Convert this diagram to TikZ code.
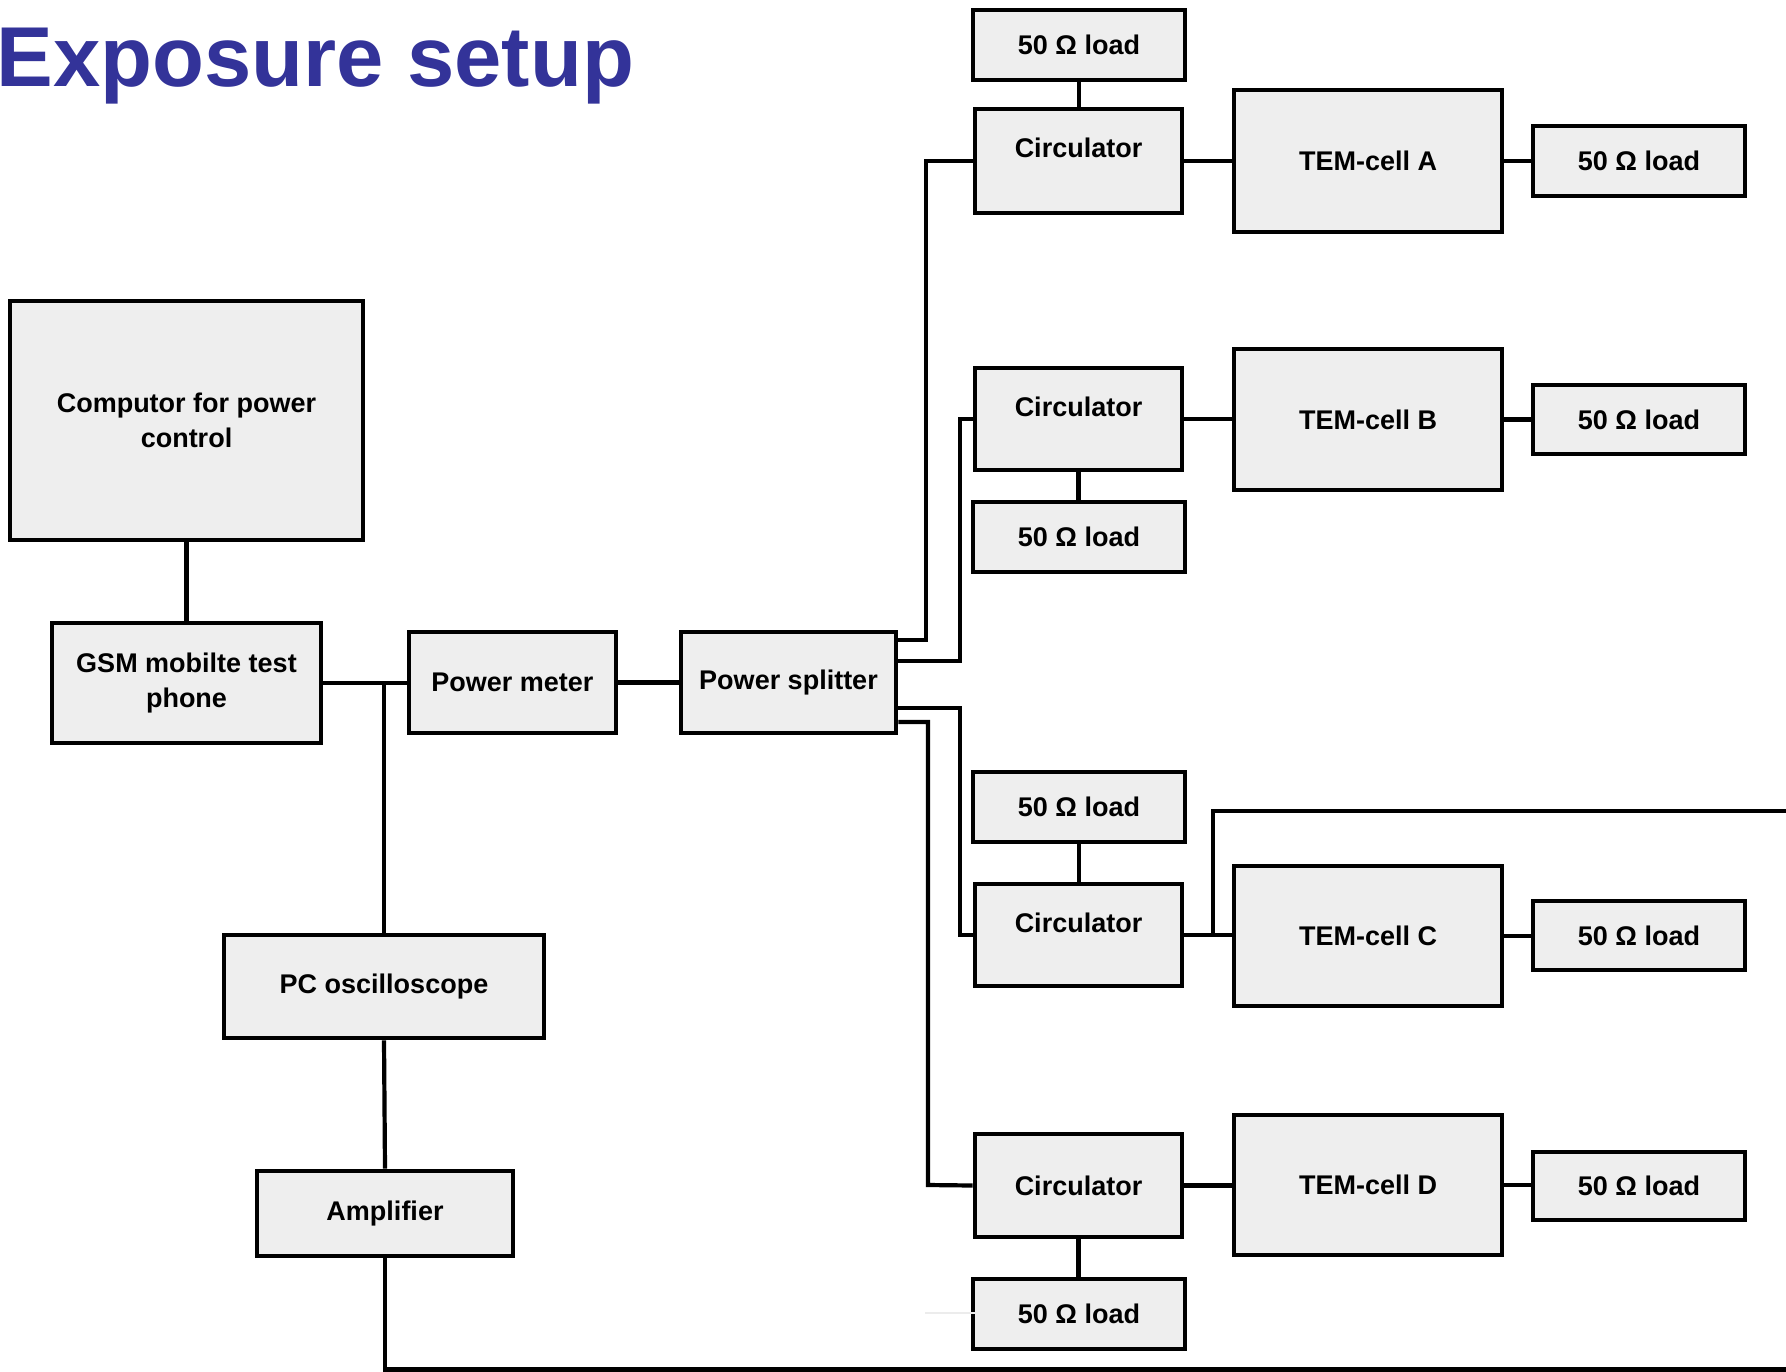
\documentclass[tikz,border=0pt]{standalone}
\usepackage{fontspec}
\setmainfont{Liberation Sans}
\definecolor{boxgray}{RGB}{238,238,238}
\definecolor{titleblue}{RGB}{51,51,153}
\tikzset{
  box/.style={draw=black, fill=boxgray, line width=2.3pt, inner sep=0pt, align=center,
    font=\bfseries\fontsize{13.5}{17.5}\selectfont},
  lbl/.style={inner sep=0pt, font=\bfseries\fontsize{13.5}{17.5}\selectfont},
  wire/.style={draw=black, line width=2.1pt, line join=miter},
}
\newcommand\mybox[6]{\node[box, minimum width={(#4-#2)*0.5pt}, minimum height={(#5-#3)*0.5pt}] (#1) at ({(#2+#4)/2},{(#3+#5)/2}) {#6};}
\begin{document}
\begin{tikzpicture}[x=0.5pt, y=-0.5pt]
\useasboundingbox (0,0) rectangle (1786,1371);
\fill[white] (0,0) rectangle (1786,1371);
\node[anchor=base west, inner sep=0pt, text=titleblue, font=\bfseries\fontsize{42.5}{50}\selectfont] (title) at (-4,86) {Exposure setup};

\coordinate (cT) at (1213,935);
\coordinate (edgeC) at (1786,811);
\coordinate (edgeB) at (1786,1369.5);
\coordinate (stubL) at (925,1313);
\coordinate (stubR) at (975,1313);

\mybox{loadTA}{973}{10}{1185}{80}{50 Ω load}
\mybox{circA}{975}{109}{1182}{213}{}
\mybox{temA}{1234}{90}{1502}{232}{TEM-cell A}
\mybox{loadRA}{1533}{126}{1745}{196}{50 Ω load}
\mybox{comp}{10}{301}{363}{540}{Computor for power\\control}
\mybox{gsm}{52}{623}{321}{743}{GSM mobilte test\\phone}
\mybox{pm}{409}{632}{616}{733}{Power meter}
\mybox{ps}{681}{632}{896}{733}{Power splitter}
\mybox{circB}{975}{368}{1182}{470}{}
\mybox{temB}{1234}{349}{1502}{490}{TEM-cell B}
\mybox{loadRB}{1533}{385}{1745}{454}{50 Ω load}
\mybox{loadBB}{973}{502}{1185}{572}{50 Ω load}
\mybox{loadTC}{973}{772}{1185}{842}{50 Ω load}
\mybox{circC}{975}{884}{1182}{986}{}
\mybox{temC}{1234}{866}{1502}{1006}{TEM-cell C}
\mybox{loadRC}{1533}{901}{1745}{970}{50 Ω load}
\mybox{circD}{975}{1134}{1182}{1237}{Circulator}
\mybox{temD}{1234}{1115}{1502}{1255}{TEM-cell D}
\mybox{loadRD}{1533}{1152}{1745}{1220}{50 Ω load}
\mybox{loadBD}{973}{1279}{1185}{1349}{50 Ω load}
\mybox{pco}{224}{935}{544}{1038}{PC oscilloscope}
\mybox{amp}{257}{1171}{513}{1256}{Amplifier}

\node[lbl] (circAt) at (1078.5,148) {Circulator};
\node[lbl] (circBt) at (1078.5,407) {Circulator};
\node[lbl] (circCt) at (1078.5,923) {Circulator};

% connectors
\draw[wire] (ps.east |- 0,640) -| (926,161) -- (circA.west);
\draw[wire] (ps.east |- 0,661) -| (960,419) -- (circB.west);
\draw[wire] (ps.east |- 0,708) -| (960,935) -- (circC.west);
\draw[wire] (ps.east |- 0,722) -| (928,1185) -- (circD.west);

\draw[wire] (loadTA.south) -- (loadTA.south |- circA.north);
\draw[wire] (circA.east) -- (circA.east -| temA.west);
\draw[wire] (temA.east) -- (temA.east -| loadRA.west);

\draw[wire] (circB.east) -- (circB.east -| temB.west);
\draw[wire] (temB.east) -- (temB.east -| loadRB.west);
\draw[wire] (circB.south) -- (circB.south |- loadBB.north);

\draw[wire] (loadTC.south) -- (loadTC.south |- circC.north);
\draw[wire] (circC.east) -- (circC.east -| temC.west);
\draw[wire] (temC.east) -- (temC.east -| loadRC.west);
\draw[wire] (cT) |- (edgeC);

\draw[wire] (circD.east) -- (circD.east -| temD.west);
\draw[wire] (temD.east) -- (temD.east -| loadRD.west);
\draw[wire] (circD.south) -- (circD.south |- loadBD.north);
\draw[gray!15, line width=1.2pt] (stubL) -- (stubR);

\draw[wire] (comp.south) -- (comp.south |- gsm.north);
\draw[wire] (gsm.east) -- (gsm.east -| pm.west);
\draw[wire] (pco.north |- gsm.east) -- (pco.north);
\draw[wire] (pco.south) -- (amp.north);
\draw[wire] (amp.south) |- (edgeB);
\draw[wire] (pm.east) -- (pm.east -| ps.west);
\end{tikzpicture}
\end{document}
